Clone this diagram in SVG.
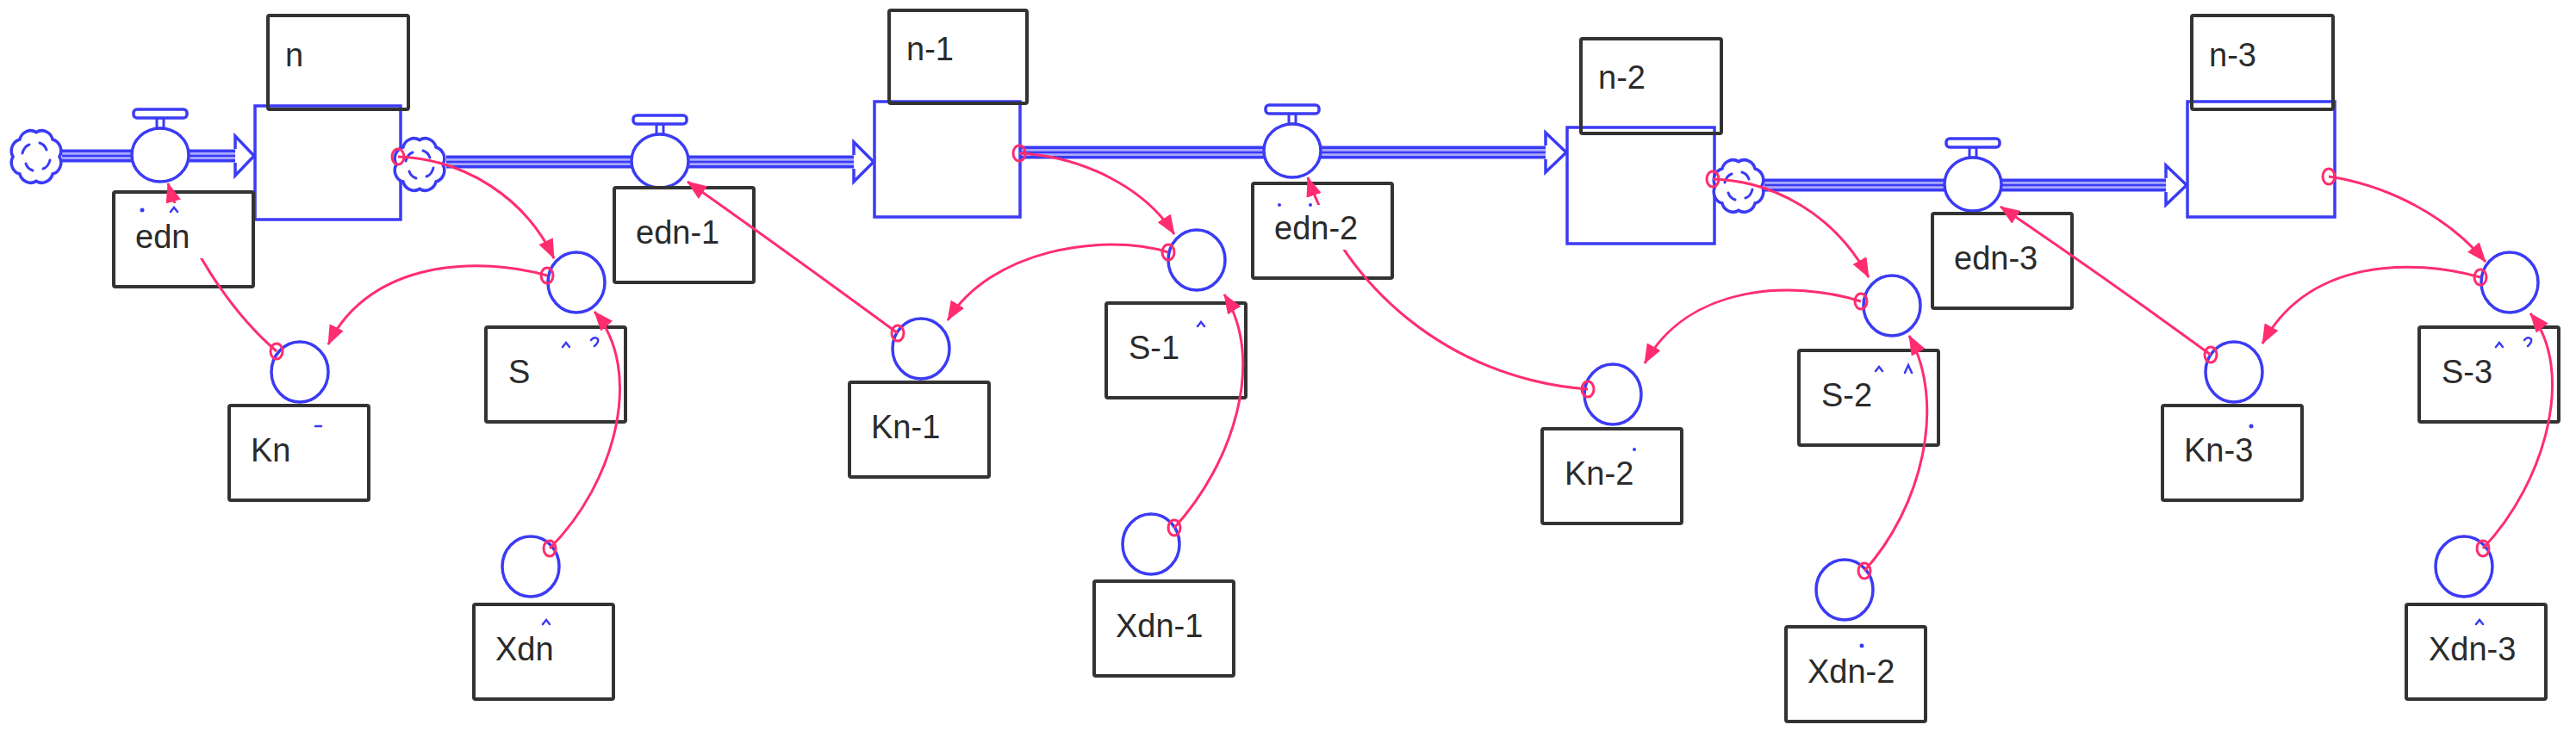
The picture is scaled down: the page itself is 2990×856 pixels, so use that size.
<svg xmlns="http://www.w3.org/2000/svg" width="2990" height="856" viewBox="0 0 2990 856">
<style>
.box{fill:none;stroke:#333;stroke-width:4}
.lbl{font-family:"Liberation Sans",Arial,sans-serif;font-size:38px;fill:#2b2b2b}
.stock{fill:#fff;stroke:#3b3bf5;stroke-width:3.5}
.aux{fill:#fff;stroke:#3b3bf5;stroke-width:3.5}
.pipeO{fill:none;stroke:#3b3bf5;stroke-width:15}
.pipeI{fill:none;stroke:#a9a9ff;stroke-width:8}
.pipeC{fill:none;stroke:#3b3bf5;stroke-width:2.5}
.head{fill:#fff;stroke:#3b3bf5;stroke-width:3.5}
.link{fill:none;stroke:#ff2d6f;stroke-width:3;marker-end:url(#ah)}
.dot{fill:none;stroke:#ff2d6f;stroke-width:3}
.mark{fill:none;stroke:#3b3bf5;stroke-width:2.5;stroke-linecap:round}
</style>
<defs>
<marker id="ah" markerUnits="userSpaceOnUse" markerWidth="24" markerHeight="18" refX="22" refY="9" orient="auto">
<path d="M0,0 L23,9 L0,18 z" fill="#ff2d6f"/>
</marker>
<g id="cloud">
<path d="M27,0 A13,13 0 0,1 19.1,19.1 A13,13 0 0,1 0,27 A13,13 0 0,1 -19.1,19.1 A13,13 0 0,1 -27,0 A13,13 0 0,1 -19.1,-19.1 A13,13 0 0,1 0,-27 A13,13 0 0,1 19.1,-19.1 A13,13 0 0,1 27,0 z" transform="scale(1,1.05)" fill="#fff" stroke="#3b3bf5" stroke-width="3.5"/>
<path d="M-16,-4 q2,-8 8,-10 M4,-16 q6,2 8,8 M16,4 q-2,8 -8,10 M-4,16 q-6,-2 -8,-8" fill="none" stroke="#3b3bf5" stroke-width="3" stroke-linecap="round"/>
</g>
<g id="valve">
<rect x="-4" y="-43" width="8" height="12" fill="#fff" stroke="#3b3bf5" stroke-width="3"/>
<rect x="-31" y="-53" width="62" height="10" rx="4" fill="#fff" stroke="#3b3bf5" stroke-width="3.5"/>
<ellipse cx="0" cy="0" rx="33" ry="31" fill="#fff" stroke="#3b3bf5" stroke-width="3.5"/>
</g>
<mask id="gap" maskUnits="userSpaceOnUse" x="0" y="0" width="2990" height="856">
<rect x="0" y="0" width="2990" height="856" fill="#fff"/>
<rect x="150" y="236" width="110" height="64" fill="#000"/>
<rect x="1495" y="238" width="110" height="52" fill="#000"/>
</mask>
</defs>
<rect x="0" y="0" width="2990" height="856" fill="#fff"/>

<g id="pipes">
<path class="pipeO" d="M72,181 H274 M518,188 H992 M1185,177 H1795 M2048,215 H2515"/>
<path class="pipeI" d="M72,181 H274 M518,188 H992 M1185,177 H1795 M2048,215 H2515"/>
<path class="pipeC" d="M72,181 H274 M518,188 H992 M1185,177 H1795 M2048,215 H2515"/>
<path class="head" d="M273,173 L273,158 L295,181 L273,204 L273,189"/>
<path class="head" d="M991,180 L991,165 L1014,188 L991,211 L991,196"/>
<path class="head" d="M1794,169 L1794,154 L1818,177 L1794,200 L1794,185"/>
<path class="head" d="M2514,207 L2514,192 L2538,215 L2514,238 L2514,223"/>
</g>

<g id="source-cloud"><use href="#cloud" x="42" y="182"/></g>

<g id="n">
<rect class="stock" x="296" y="123" width="169" height="132"/>
<rect class="box" x="311" y="18" width="163" height="109" rx="2"/>
<text class="lbl" x="331" y="77">n</text>
</g>
<g id="sink-n"><use href="#cloud" x="487" y="191"/></g>

<g id="n-1">
<rect class="stock" x="1015" y="118" width="169" height="134"/>
<rect class="box" x="1032" y="12" width="160" height="108" rx="2"/>
<text class="lbl" x="1052" y="70">n-1</text>
</g>

<g id="n-2">
<rect class="stock" x="1819" y="148" width="171" height="135"/>
<rect class="box" x="1835" y="45" width="163" height="110" rx="2"/>
<text class="lbl" x="1855" y="103">n-2</text>
</g>
<g id="sink-n-2"><use href="#cloud" x="2018" y="216"/></g>

<g id="n-3">
<rect class="stock" x="2539" y="118" width="171" height="134"/>
<rect class="box" x="2544" y="18" width="164" height="109" rx="2"/>
<text class="lbl" x="2564" y="77">n-3</text>
</g>

<g id="edn"><use href="#valve" x="186" y="180"/><rect class="box" x="132" y="223" width="162" height="110" rx="2"/><text class="lbl" x="157" y="288">edn</text></g>
<g id="edn-1"><use href="#valve" x="766" y="187"/><rect class="box" x="713" y="218" width="162" height="110" rx="2"/><text class="lbl" x="738" y="283">edn-1</text></g>
<g id="edn-2"><use href="#valve" x="1500" y="175"/><rect class="box" x="1454" y="213" width="162" height="110" rx="2"/><text class="lbl" x="1479" y="278">edn-2</text></g>
<g id="edn-3"><use href="#valve" x="2290" y="214"/><rect class="box" x="2243" y="248" width="162" height="110" rx="2"/><text class="lbl" x="2268" y="313">edn-3</text></g>

<g id="S"><ellipse class="aux" cx="669" cy="328" rx="33" ry="35"/><rect class="box" x="564" y="380" width="162" height="110" rx="2"/><text class="lbl" x="590" y="445">S</text></g>
<g id="Kn"><ellipse class="aux" cx="348" cy="432" rx="33" ry="35"/><rect class="box" x="266" y="471" width="162" height="110" rx="2"/><text class="lbl" x="291" y="536">Kn</text></g>
<g id="Xdn"><ellipse class="aux" cx="616" cy="658" rx="33" ry="35"/><rect class="box" x="550" y="702" width="162" height="110" rx="2"/><text class="lbl" x="575" y="767">Xdn</text></g>

<g id="S-1"><ellipse class="aux" cx="1389" cy="302" rx="33" ry="35"/><rect class="box" x="1284" y="352" width="162" height="110" rx="2"/><text class="lbl" x="1310" y="417">S-1</text></g>
<g id="Kn-1"><ellipse class="aux" cx="1069" cy="405" rx="33" ry="35"/><rect class="box" x="986" y="444" width="162" height="110" rx="2"/><text class="lbl" x="1011" y="509">Kn-1</text></g>
<g id="Xdn-1"><ellipse class="aux" cx="1336" cy="632" rx="33" ry="35"/><rect class="box" x="1270" y="675" width="162" height="110" rx="2"/><text class="lbl" x="1295" y="740">Xdn-1</text></g>

<g id="S-2"><ellipse class="aux" cx="2196" cy="355" rx="33" ry="35"/><rect class="box" x="2088" y="407" width="162" height="110" rx="2"/><text class="lbl" x="2114" y="472">S-2</text></g>
<g id="Kn-2"><ellipse class="aux" cx="1872" cy="458" rx="33" ry="35"/><rect class="box" x="1790" y="498" width="162" height="110" rx="2"/><text class="lbl" x="1816" y="563">Kn-2</text></g>
<g id="Xdn-2"><ellipse class="aux" cx="2141" cy="685" rx="33" ry="35"/><rect class="box" x="2073" y="728" width="162" height="110" rx="2"/><text class="lbl" x="2098" y="793">Xdn-2</text></g>

<g id="S-3"><ellipse class="aux" cx="2913" cy="328" rx="33" ry="35"/><rect class="box" x="2808" y="380" width="162" height="110" rx="2"/><text class="lbl" x="2834" y="445">S-3</text></g>
<g id="Kn-3"><ellipse class="aux" cx="2593" cy="432" rx="33" ry="35"/><rect class="box" x="2510" y="471" width="162" height="110" rx="2"/><text class="lbl" x="2535" y="536">Kn-3</text></g>
<g id="Xdn-3"><ellipse class="aux" cx="2860" cy="658" rx="33" ry="35"/><rect class="box" x="2793" y="702" width="162" height="110" rx="2"/><text class="lbl" x="2819" y="767">Xdn-3</text></g>

<g id="marks">
<path class="mark" d="M653,403 L657,398 L661,403 M686,395 q4,-5 8,-1 q1,4 -4,8 M2897,403 L2901,398 L2905,403 M2930,395 q4,-5 8,-1 q1,4 -4,8 M2177,431 L2181,426 L2185,431 M2211,433 L2215,424 L2219,433 M1390,379 L1394,374 L1398,379 M630,725 L634,720 L638,725 M2874,725 L2878,720 L2882,725 M366,495 L373,495 M198,246 L202,241 L206,246"/>
<g fill="#3b3bf5"><circle cx="2161" cy="750" r="2.5"/><circle cx="1897" cy="522" r="2"/><circle cx="2613" cy="495" r="2.5"/><circle cx="165" cy="244" r="2.5"/><circle cx="1485" cy="238" r="2"/><circle cx="1521" cy="238" r="2"/></g>
</g>

<g id="connectors">
<path class="link" d="M462,182 C540,185 610,230 643,300"/>
<path class="link" d="M635,320 C560,298 430,300 381,400"/>
<path class="link" mask="url(#gap)" d="M321,408 C265,360 215,280 195,213"/>
<path class="link" d="M638,637 C715,560 748,430 690,362"/>
<path class="link" d="M1183,178 C1260,182 1330,220 1363,272"/>
<path class="link" d="M1356,293 C1280,270 1150,290 1100,372"/>
<path class="link" d="M1042,387 Q910,290 798,211"/>
<path class="link" d="M1363,613 C1430,540 1470,420 1421,342"/>
<path class="link" d="M1988,208 C2060,210 2130,250 2169,322"/>
<path class="link" d="M2160,350 C2080,325 1960,330 1909,422"/>
<path class="link" mask="url(#gap)" d="M1843,452 C1680,440 1560,330 1518,206"/>
<path class="link" d="M2164,663 C2230,590 2260,470 2216,390"/>
<path class="link" d="M2703,205 C2770,215 2840,250 2885,304"/>
<path class="link" d="M2879,322 C2800,300 2680,300 2626,399"/>
<path class="link" d="M2566,412 Q2440,320 2322,240"/>
<path class="link" d="M2882,637 C2955,560 2990,430 2937,364"/>
<g class="dot">
<ellipse cx="462" cy="182" rx="7" ry="9"/><ellipse cx="635" cy="320" rx="7" ry="9"/><ellipse cx="321" cy="408" rx="7" ry="9"/><ellipse cx="638" cy="637" rx="7" ry="9"/>
<ellipse cx="1183" cy="178" rx="7" ry="9"/><ellipse cx="1356" cy="293" rx="7" ry="9"/><ellipse cx="1042" cy="387" rx="7" ry="9"/><ellipse cx="1363" cy="613" rx="7" ry="9"/>
<ellipse cx="1988" cy="208" rx="7" ry="9"/><ellipse cx="2160" cy="350" rx="7" ry="9"/><ellipse cx="1843" cy="452" rx="7" ry="9"/><ellipse cx="2164" cy="663" rx="7" ry="9"/>
<ellipse cx="2703" cy="205" rx="7" ry="9"/><ellipse cx="2879" cy="322" rx="7" ry="9"/><ellipse cx="2566" cy="412" rx="7" ry="9"/><ellipse cx="2882" cy="637" rx="7" ry="9"/>
</g>
</g>
</svg>
